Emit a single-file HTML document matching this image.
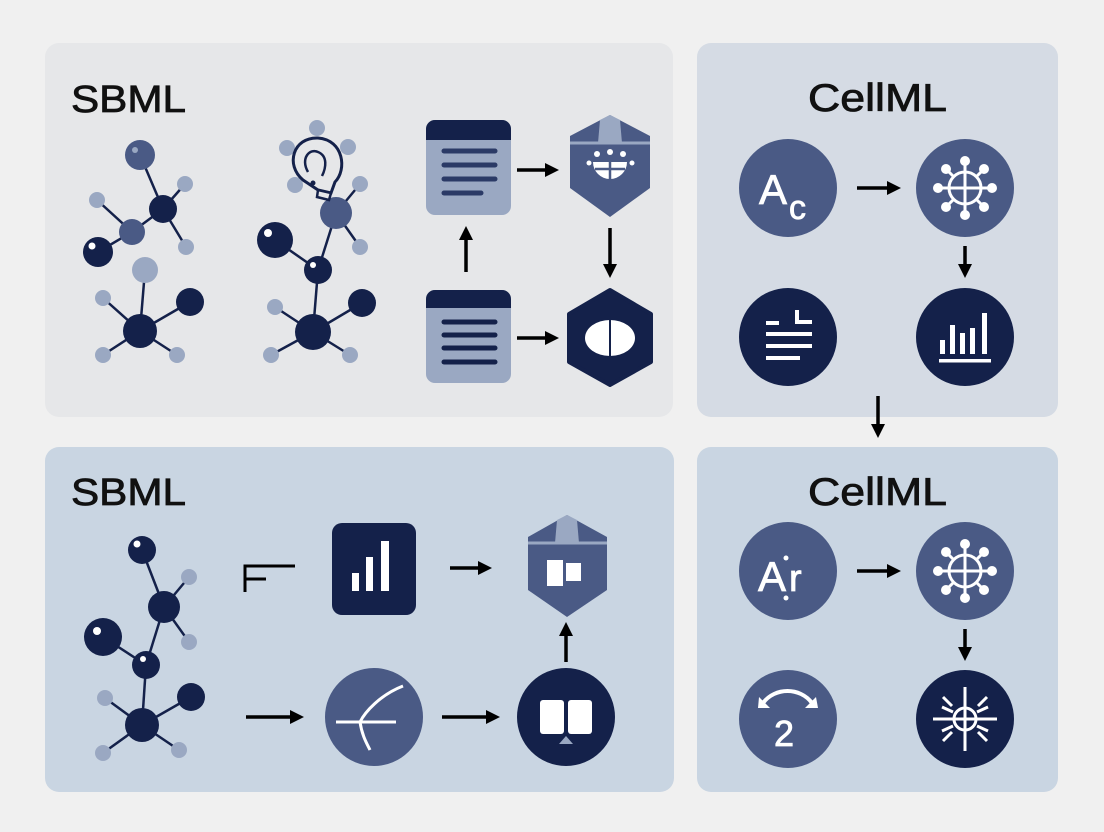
<!DOCTYPE html>
<html><head><meta charset="utf-8"><style>
html,body{margin:0;padding:0;background:#f0f0f0;}
svg{display:block;}
text{font-family:"Liberation Sans",sans-serif;}
</style></head><body>
<svg width="1104" height="832" viewBox="0 0 1104 832" xmlns="http://www.w3.org/2000/svg">
<defs>
<marker id="ah" markerWidth="14" markerHeight="14" refX="6" refY="7" orient="auto" markerUnits="userSpaceOnUse" viewBox="0 0 14 14"><path d="M0,0 L14,7 L0,14 z" fill="#000"/></marker>
<g id="globe" stroke="#fff" fill="none" stroke-width="3">
<circle r="16"/><line x1="-16" y1="0" x2="16" y2="0"/><line x1="0" y1="-16" x2="0" y2="16"/>
<line x1="0" y1="-16" x2="0" y2="-26"/><line x1="0" y1="16" x2="0" y2="26"/>
<line x1="-16" y1="0" x2="-26" y2="0"/><line x1="16" y1="0" x2="26" y2="0"/>
<line x1="11" y1="11" x2="19" y2="19"/><line x1="-11" y1="11" x2="-19" y2="19"/>
<line x1="11" y1="-11" x2="19" y2="-19"/><line x1="-11" y1="-11" x2="-19" y2="-19"/>
<g fill="#fff" stroke="none">
<circle cx="0" cy="-27" r="5"/><circle cx="0" cy="27" r="5"/><circle cx="-27" cy="0" r="5"/><circle cx="27" cy="0" r="5"/>
<circle cx="19" cy="19" r="5"/><circle cx="-19" cy="19" r="5"/><circle cx="19" cy="-19" r="5"/><circle cx="-19" cy="-19" r="5"/>
</g></g>
</defs>

<rect x="45" y="43" width="628" height="374" rx="14" fill="#e6e7e9"/>
<rect x="697" y="43" width="361" height="374" rx="14" fill="#d5dbe4"/>
<rect x="45" y="447" width="629" height="345" rx="14" fill="#c9d5e2"/>
<rect x="697" y="447" width="361" height="345" rx="14" fill="#c9d5e2"/>

<g fill="#111" stroke="#111" stroke-width="0.8">
<text x="71" y="112" font-size="38" textLength="115" lengthAdjust="spacingAndGlyphs">SBML</text>
<text x="71" y="505" font-size="38" textLength="115" lengthAdjust="spacingAndGlyphs">SBML</text>
<text x="808" y="111" font-size="39" textLength="139" lengthAdjust="spacingAndGlyphs">CellML</text>
<text x="808" y="505" font-size="39" textLength="139" lengthAdjust="spacingAndGlyphs">CellML</text>
</g>

<g stroke="#14214a" stroke-width="2.5">
<line x1="140" y1="155" x2="163" y2="209"/><line x1="163" y1="209" x2="132" y2="232"/><line x1="132" y1="232" x2="98" y2="252"/>
<line x1="97" y1="200" x2="132" y2="232"/><line x1="163" y1="209" x2="185" y2="184"/><line x1="163" y1="209" x2="186" y2="247"/>
<line x1="145" y1="270" x2="140" y2="331"/><line x1="140" y1="331" x2="190" y2="302"/><line x1="140" y1="331" x2="103" y2="298"/>
<line x1="140" y1="331" x2="103" y2="355"/><line x1="140" y1="331" x2="177" y2="355"/>
</g>
<g fill="#9aa8c2">
<circle cx="97" cy="200" r="8"/><circle cx="185" cy="184" r="8"/><circle cx="186" cy="247" r="8"/><circle cx="145" cy="270" r="13"/>
<circle cx="103" cy="298" r="8"/><circle cx="103" cy="355" r="8"/><circle cx="177" cy="355" r="8"/>
</g>
<circle cx="140" cy="155" r="15" fill="#4a5a85"/><circle cx="135" cy="150" r="3" fill="#9aa8c2"/>
<circle cx="132" cy="232" r="13" fill="#4a5a85"/>
<g fill="#14214a"><circle cx="163" cy="209" r="14"/><circle cx="98" cy="252" r="15"/><circle cx="140" cy="331" r="17"/><circle cx="190" cy="302" r="14"/></g>
<circle cx="92" cy="246" r="3.5" fill="#fff"/>

<g stroke="#14214a" stroke-width="2.5">
<line x1="336" y1="213" x2="360" y2="184"/><line x1="336" y1="213" x2="360" y2="247"/><line x1="336" y1="213" x2="318" y2="270"/>
<line x1="275" y1="240" x2="318" y2="270"/><line x1="318" y1="270" x2="313" y2="332"/><line x1="313" y1="332" x2="362" y2="303"/>
<line x1="313" y1="332" x2="275" y2="307"/><line x1="313" y1="332" x2="271" y2="355"/><line x1="313" y1="332" x2="350" y2="355"/>
</g>
<g fill="#9aa8c2">
<circle cx="317" cy="128" r="8"/><circle cx="287" cy="148" r="8"/><circle cx="348" cy="147" r="8"/><circle cx="295" cy="185" r="8"/>
<circle cx="360" cy="184" r="8"/><circle cx="360" cy="247" r="8"/><circle cx="275" cy="307" r="8"/><circle cx="271" cy="355" r="8"/><circle cx="350" cy="355" r="8"/>
</g>
<circle cx="336" cy="213" r="16" fill="#4a5a85"/>
<g fill="#14214a"><circle cx="275" cy="240" r="18"/><circle cx="318" cy="270" r="14"/><circle cx="362" cy="303" r="14"/><circle cx="313" cy="332" r="18"/></g>
<circle cx="268" cy="233" r="4" fill="#fff"/><circle cx="313" cy="265" r="3" fill="#fff"/>
<path d="M303,180 C285,165 293,137 318,138 C344,140 347,170 335,182 L331,193 L318,190 Z" fill="#e6e7e9" stroke="#14214a" stroke-width="3"/>
<path d="M318,190 L331,193 L329,200 L317,197 Z" fill="#e6e7e9" stroke="#14214a" stroke-width="2.5"/>
<path d="M308,172 C300,158 310,148 318,152 C328,156 326,168 322,176" fill="none" stroke="#14214a" stroke-width="2.5"/>
<circle cx="313" cy="183" r="2.5" fill="#14214a"/>

<rect x="426" y="120" width="85" height="95" rx="9" fill="#9aa8c2"/>
<path d="M426,140 V129 a9,9 0 0 1 9,-9 H502 a9,9 0 0 1 9,9 V140 Z" fill="#14214a"/>
<g stroke="#2b3a66" stroke-width="5" stroke-linecap="round">
<line x1="444" y1="151" x2="495" y2="151"/><line x1="444" y1="165" x2="495" y2="165"/><line x1="444" y1="179" x2="495" y2="179"/><line x1="444" y1="193" x2="481" y2="193"/>
</g>
<rect x="426" y="290" width="85" height="93" rx="9" fill="#9aa8c2"/>
<path d="M426,308 V299 a9,9 0 0 1 9,-9 H502 a9,9 0 0 1 9,9 V308 Z" fill="#14214a"/>
<g stroke="#14214a" stroke-width="5" stroke-linecap="round">
<line x1="444" y1="322" x2="495" y2="322"/><line x1="444" y1="335" x2="495" y2="335"/><line x1="444" y1="348" x2="495" y2="348"/><line x1="444" y1="362" x2="495" y2="362"/>
</g>

<path d="M610,115 L650,136 L650,188 L610,217 L570,188 L570,136 Z" fill="#4a5a85"/>
<path d="M600,120 L610,115 L620,120 L622,143 L598,143 Z" fill="#9aa8c2"/>
<line x1="570" y1="143" x2="650" y2="143" stroke="#9aa8c2" stroke-width="3"/>
<path d="M593,162 H627 A17,17 0 0 1 593,162 Z" fill="#fff"/>
<line x1="610" y1="162" x2="610" y2="180" stroke="#4a5a85" stroke-width="2.5"/><line x1="595" y1="169" x2="625" y2="169" stroke="#4a5a85" stroke-width="2.5"/>
<g fill="#fff"><circle cx="597" cy="154" r="3"/><circle cx="610" cy="152" r="3"/><circle cx="623" cy="154" r="3"/><circle cx="589" cy="163" r="2.5"/><circle cx="632" cy="163" r="2.5"/></g>

<path d="M610,290 L651,314 L651,362 L610,385 L569,362 L569,314 Z" fill="#14214a" stroke="#14214a" stroke-width="4" stroke-linejoin="round"/>
<ellipse cx="610" cy="338" rx="25" ry="18" fill="#fff"/>
<line x1="610" y1="320" x2="610" y2="356" stroke="#14214a" stroke-width="2"/>

<g stroke="#000" stroke-width="3.5" marker-end="url(#ah)">
<line x1="466" y1="272" x2="466" y2="234"/>
<line x1="517" y1="170" x2="551" y2="170"/>
<line x1="517" y1="338" x2="551" y2="338"/>
<line x1="610" y1="228" x2="610" y2="270"/>
</g>

<g stroke="#14214a" stroke-width="2.5">
<line x1="142" y1="550" x2="164" y2="607"/><line x1="164" y1="607" x2="189" y2="577"/><line x1="164" y1="607" x2="189" y2="642"/>
<line x1="164" y1="607" x2="146" y2="665"/><line x1="103" y1="637" x2="146" y2="665"/><line x1="146" y1="665" x2="142" y2="725"/>
<line x1="142" y1="725" x2="191" y2="697"/><line x1="142" y1="725" x2="105" y2="698"/><line x1="142" y1="725" x2="103" y2="753"/><line x1="142" y1="725" x2="179" y2="750"/>
</g>
<g fill="#9aa8c2"><circle cx="189" cy="577" r="8"/><circle cx="189" cy="642" r="8"/><circle cx="105" cy="698" r="8"/><circle cx="103" cy="753" r="8"/><circle cx="179" cy="750" r="8"/></g>
<g fill="#14214a"><circle cx="142" cy="550" r="14"/><circle cx="164" cy="607" r="16"/><circle cx="103" cy="637" r="19"/><circle cx="146" cy="665" r="14"/><circle cx="191" cy="697" r="14"/><circle cx="142" cy="725" r="17"/></g>
<g fill="#fff"><circle cx="137" cy="544" r="3.5"/><circle cx="97" cy="631" r="4"/><circle cx="143" cy="659" r="3"/></g>

<path d="M245,592 V566 H295 M245,579 H266" fill="none" stroke="#000" stroke-width="3"/>

<rect x="332" y="523" width="84" height="92" rx="10" fill="#14214a"/>
<g fill="#fff"><rect x="352" y="573" width="7" height="18"/><rect x="366" y="557" width="7" height="34"/><rect x="381" y="541" width="8" height="50"/></g>

<path d="M567,515 L607,537 L607,590 L567,617 L528,590 L528,537 Z" fill="#4a5a85"/>
<path d="M557,520 L567,515 L577,520 L579,543 L555,543 Z" fill="#9aa8c2"/>
<line x1="528" y1="543" x2="607" y2="543" stroke="#9aa8c2" stroke-width="3"/>
<rect x="547" y="560" width="16" height="26" fill="#fff"/><rect x="566" y="563" width="15" height="18" fill="#fff"/>

<circle cx="374" cy="717" r="49" fill="#4a5a85"/>
<path d="M403,686 C380,695 365,712 360,722 C362,735 366,742 370,750 M336,722 H396" fill="none" stroke="#fff" stroke-width="3"/>
<circle cx="566" cy="717" r="49" fill="#14214a"/>
<rect x="540" y="700" width="24" height="34" rx="3" fill="#fff"/><rect x="568" y="700" width="24" height="34" rx="3" fill="#fff"/>
<path d="M566,736 L559,744 H573 Z" fill="#9aa8c2"/>

<g stroke="#000" stroke-width="3.5" marker-end="url(#ah)">
<line x1="450" y1="568" x2="484" y2="568"/>
<line x1="246" y1="717" x2="296" y2="717"/>
<line x1="442" y1="717" x2="492" y2="717"/>
<line x1="566" y1="662" x2="566" y2="630"/>
</g>

<circle cx="788" cy="188" r="49" fill="#4a5a85"/>
<text x="759" y="204" font-size="42" fill="#fff" stroke="#fff" stroke-width="0.8">A</text><text x="789" y="219" font-size="34" fill="#fff" stroke="#fff" stroke-width="0.8">c</text>
<circle cx="965" cy="188" r="49" fill="#4a5a85"/>
<use href="#globe" x="965" y="188"/>
<circle cx="788" cy="337" r="49" fill="#14214a"/>
<g stroke="#fff" stroke-width="4"><line x1="766" y1="323" x2="779" y2="323"/><path d="M797,310 V322 H812" fill="none"/><line x1="766" y1="334" x2="812" y2="334"/><line x1="766" y1="346" x2="812" y2="346"/><line x1="766" y1="358" x2="800" y2="358"/></g>
<circle cx="965" cy="337" r="49" fill="#14214a"/>
<g fill="#fff"><rect x="940" y="340" width="5" height="14"/><rect x="950" y="325" width="5" height="29"/><rect x="960" y="333" width="5" height="21"/><rect x="970" y="328" width="5" height="26"/><rect x="982" y="313" width="5" height="41"/><rect x="939" y="359" width="52" height="3.5"/></g>

<circle cx="788" cy="571" r="49" fill="#4a5a85"/>
<text x="758" y="591" font-size="42" fill="#fff" stroke="#fff" stroke-width="0.8">A</text><text x="789" y="591" font-size="38" fill="#fff" stroke="#fff" stroke-width="0.8">r</text>
<circle cx="786" cy="558" r="2.5" fill="#fff"/><circle cx="786" cy="598" r="2.5" fill="#fff"/>
<circle cx="965" cy="571" r="49" fill="#4a5a85"/>
<use href="#globe" x="965" y="571"/>
<circle cx="788" cy="719" r="49" fill="#4a5a85"/>
<path d="M763,703 C775,687 800,687 812,703" fill="none" stroke="#fff" stroke-width="4"/>
<path d="M759,697 L770,708 L758,708 Z M816,697 L805,708 L818,708 Z" fill="#fff"/>
<text x="774" y="746" font-size="36" fill="#fff" stroke="#fff" stroke-width="0.8">2</text>
<circle cx="965" cy="719" r="49" fill="#14214a"/>
<g stroke="#fff" stroke-width="3" fill="none">
<circle cx="965" cy="719" r="11"/><line x1="933" y1="719" x2="997" y2="719"/><line x1="965" y1="687" x2="965" y2="751"/>
<line x1="952" y1="706" x2="943" y2="697"/><line x1="978" y1="706" x2="987" y2="697"/><line x1="952" y1="732" x2="943" y2="741"/><line x1="978" y1="732" x2="987" y2="741"/>
<line x1="953" y1="712" x2="942" y2="707"/><line x1="977" y1="712" x2="988" y2="707"/><line x1="953" y1="726" x2="942" y2="731"/><line x1="977" y1="726" x2="988" y2="731"/>
</g>

<g stroke="#000" stroke-width="3.5" marker-end="url(#ah)">
<line x1="857" y1="188" x2="893" y2="188"/>
<line x1="965" y1="246" x2="965" y2="270"/>
<line x1="878" y1="396" x2="878" y2="430"/>
<line x1="857" y1="571" x2="893" y2="571"/>
<line x1="965" y1="629" x2="965" y2="653"/>
</g>
</svg>
</body></html>
